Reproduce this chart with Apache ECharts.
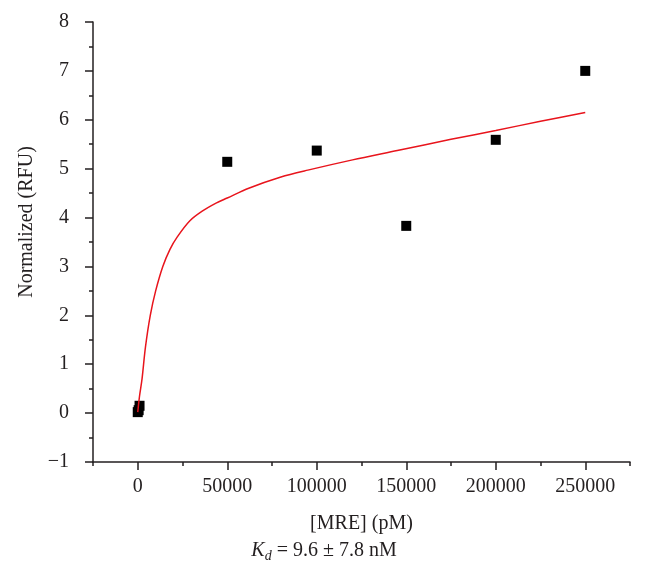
<!DOCTYPE html>
<html>
<head>
<meta charset="utf-8">
<script src="https://cdn.jsdelivr.net/npm/echarts@6/dist/echarts.min.js"></script>
<style>
  html, body { margin: 0; padding: 0; background: #fff; }
  #chart { width: 648px; height: 579px; }
</style>
</head>
<body>
<div id="chart"></div>
<script>
// measured points
var mreConc = [0, 500, 1000, 50000, 100000, 150000, 200000, 250000];
var rfuValues = [0.02, 0.06, 0.15, 5.14, 5.37, 3.83, 5.59, 7.0];

// fitted curve
var fitX = [0, 1000, 2400, 4300, 7000, 10000, 14000, 18000, 22000, 29000, 36000, 44000, 50000,
  62000, 80000, 95000, 120000, 145000, 175000, 200000, 225000, 250000];
var fitY = [0.02, 0.35, 0.7, 1.35, 2.0, 2.5, 3.0, 3.35, 3.6, 3.93, 4.13, 4.3, 4.4,
  4.6, 4.83, 4.97, 5.18, 5.37, 5.6, 5.78, 5.97, 6.15];

var xMajorTicks = [0, 50000, 100000, 150000, 200000, 250000];
var xMinorTicks = [-25000, 25000, 75000, 125000, 175000, 225000, 275000];

var font = "'Liberation Serif', 'DejaVu Serif', serif";
var ink = "#231f20";

var chart = echarts.init(document.getElementById("chart"));

var option = {
  animation: false,
  grid: { left: 93, right: 18, top: 22, bottom: 117 },
  xAxis: [
    {
      type: "value",
      min: -25000,
      max: 275000,
      name: "[MRE] (pM)",
      nameLocation: "middle",
      nameGap: 52,
      nameTextStyle: { fontFamily: font, fontSize: 20, color: ink },
      axisLine: { show: true, onZero: false, lineStyle: { color: ink, width: 1.5 } },
      axisTick: { show: true, length: 8, customValues: xMajorTicks, lineStyle: { color: ink, width: 1.5 } },
      axisLabel: {
        customValues: xMajorTicks,
        margin: 15,
        fontFamily: font,
        fontSize: 20,
        color: ink,
        formatter: function (v) { return String(v); }
      },
      splitLine: { show: false }
    },
    {
      // minor ticks only
      type: "value",
      min: -25000,
      max: 275000,
      position: "bottom",
      axisLine: { show: false, onZero: false },
      axisTick: { show: true, length: 4, customValues: xMinorTicks, lineStyle: { color: ink, width: 1.5 } },
      axisLabel: { show: false },
      splitLine: { show: false }
    }
  ],
  yAxis: {
    type: "value",
    min: -1,
    max: 8,
    interval: 1,
    name: "Normalized (RFU)",
    nameLocation: "middle",
    nameGap: 50,
    nameTextStyle: { fontFamily: font, fontSize: 20, color: ink, padding: [0, 0, 0, 40] },
    axisLine: { show: true, onZero: false, lineStyle: { color: ink, width: 1.5 } },
    axisTick: { show: true, length: 8, lineStyle: { color: ink, width: 1.5 } },
    minorTick: { show: true, splitNumber: 2, length: 4, lineStyle: { color: ink, width: 1.5 } },
    axisLabel: {
      margin: 24,
      fontFamily: font,
      fontSize: 20,
      color: ink,
      formatter: function (v) { return String(v).replace("-", "\u2212"); }
    },
    splitLine: { show: false }
  },
  series: [
    {
      type: "line",
      data: fitX.map(function (x, i) { return [x, fitY[i]]; }),
      smooth: 0.3,
      showSymbol: false,
      lineStyle: { color: "#e8141c", width: 1.5 },
      z: 3
    },
    {
      type: "scatter",
      data: mreConc.map(function (x, i) { return [x, rfuValues[i]]; }),
      symbol: "rect",
      symbolSize: 10,
      itemStyle: { color: "#000", opacity: 1 },
      z: 2
    }
  ],
  graphic: [
    {
      type: "text",
      left: "center",
      top: 541,
      style: {
        text: "{i|K}{s|d}{n| = 9.6 \u00b1 7.8 nM}",
        rich: {
          i: { fontFamily: font, fontSize: 20, fontStyle: "italic", fill: ink },
          s: { fontFamily: font, fontSize: 14, fontStyle: "italic", fill: ink, padding: [10, 0, 0, 0] },
          n: { fontFamily: font, fontSize: 20, fill: ink }
        }
      }
    }
  ]
};

chart.setOption(option);
window.addEventListener("resize", function () {
  chart.resize();
});
</script>
</body>
</html>
